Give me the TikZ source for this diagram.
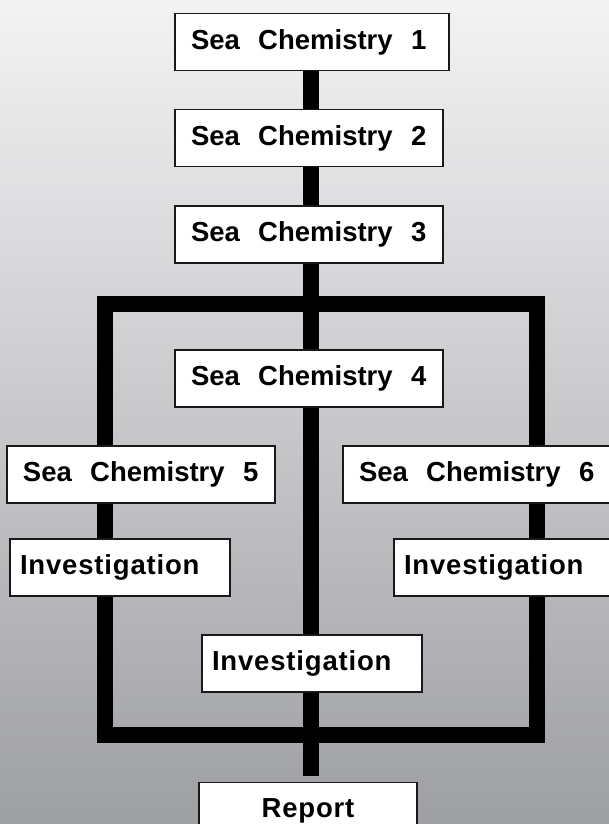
\documentclass[tikz,border=0pt]{standalone}
\usepackage{fontspec}
\setmainfont{Liberation Sans}
\newfontfamily\wideface{Liberation Sans}[LetterSpace=3]
\usepackage{xcolor}
\usetikzlibrary{positioning, backgrounds}

\definecolor{skytop}{RGB}{243,243,244}
\definecolor{skybottom}{RGB}{158,159,163}

\tikzset{
  stage/.style={draw=black!90, line width=1.6pt, fill=white, minimum height=57pt,
    inner xsep=16pt, text width=236pt, align=left,
    font=\fontsize{27.5}{32}\selectfont\bfseries},
  inquiry/.style={stage, inner xsep=10pt, text width=200pt,
    font=\wideface\fontsize{27.5}{32}\selectfont\bfseries},
  reportbox/.style={inquiry, text width=198pt, align=center},
  bar/.style={line width=16pt, black}
}

\begin{document}
\begin{tikzpicture}[x=1pt, y=-1pt]
\useasboundingbox (0,0) rectangle (609,824);
\clip (0,0) rectangle (609,824);

\node[stage, text width=242pt] (sc1) at (312,42) {Sea\ \ Chemistry\ \ 1};
\node[stage] (sc2) at (309,138) {Sea\ \ Chemistry\ \ 2};
\node[stage] (sc3) at (309,234.5) {Sea\ \ Chemistry\ \ 3};
\node[stage] (sc4) at (309,378.5) {Sea\ \ Chemistry\ \ 4};
\node[stage] (sc5) at (141,474.5) {Sea\ \ Chemistry\ \ 5};
\node[stage] (sc6) at (477,474.5) {Sea\ \ Chemistry\ \ 6};
\node[inquiry] (inv5) at (120,567.5) {Investigation};
\node[inquiry] (inv6) at (504,567.5) {Investigation};
\node[inquiry] (invc) at (312,663.5) {Investigation};
\node[reportbox] (rep) at (308,811) {Report};

\coordinate (spine) at (311,0);
\coordinate (nw) at (105,303.5);
\coordinate (se) at (537,735);

\begin{scope}[on background layer]
\shade[top color=skytop, bottom color=skybottom] (0,0) rectangle (609,824);
\draw[bar] (spine |- sc1.south) -- ([yshift=6pt]spine |- rep.north);
\draw[bar] (nw) rectangle (se);
\end{scope}
\end{tikzpicture}
\end{document}
